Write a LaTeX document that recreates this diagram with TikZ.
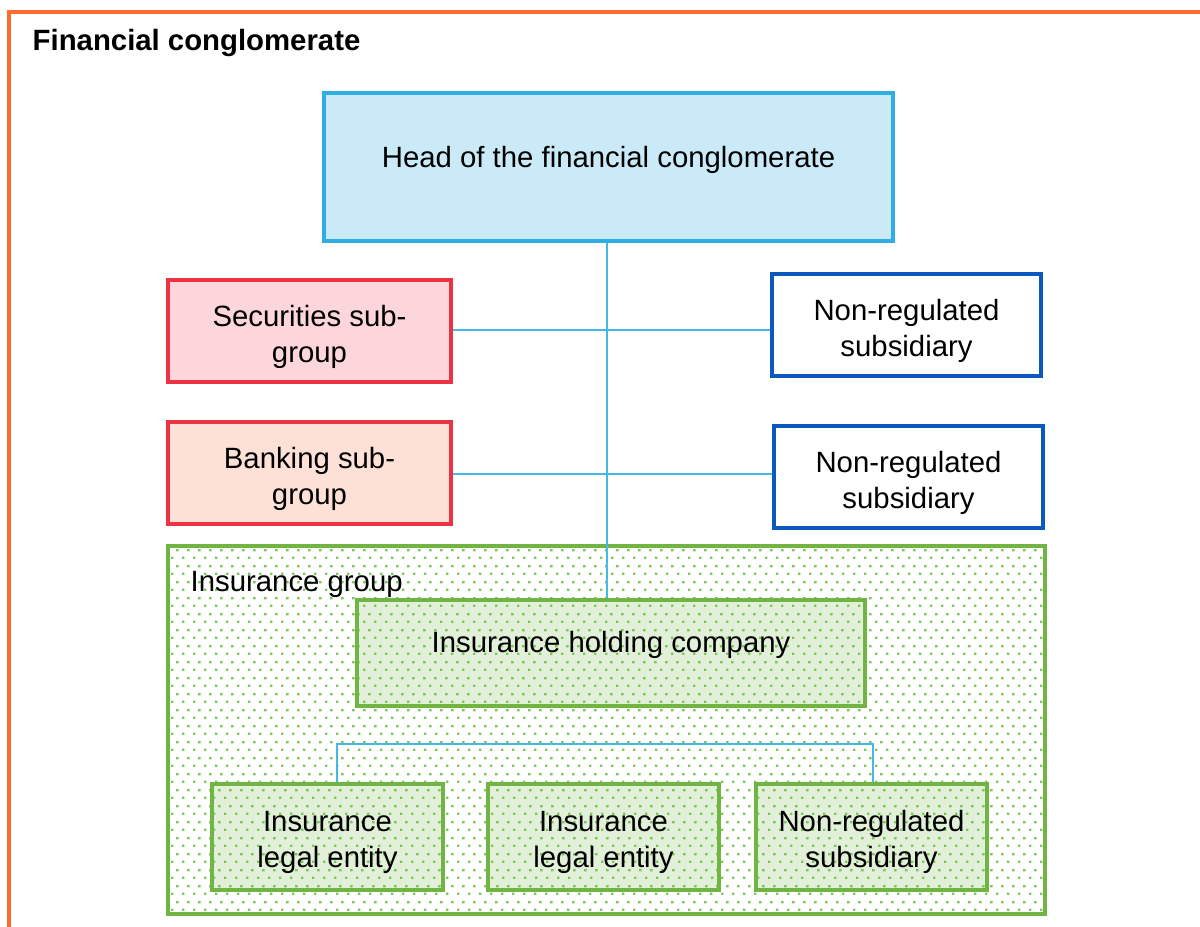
\documentclass[tikz,border=0pt]{standalone}
\usepackage{fontspec}
\setmainfont{Liberation Sans}
\usetikzlibrary{patterns.meta}
\definecolor{frameorange}{HTML}{FF6B2E}
\definecolor{headfill}{HTML}{C9EAF6}
\definecolor{headdraw}{HTML}{2FAEE4}
\definecolor{linkblue}{HTML}{45B7E8}
\definecolor{secfill}{HTML}{FDD6DB}
\definecolor{bankfill}{HTML}{FDE1D6}
\definecolor{reddraw}{HTML}{EC3343}
\definecolor{navydraw}{HTML}{0A59BE}
\definecolor{greendraw}{HTML}{70B544}
\definecolor{greenfill}{HTML}{E2EFD9}
\definecolor{dotgreen}{HTML}{7CC856}
\pgfdeclarepattern{
  name=greendots,
  type=uncolored,
  bottom left={\pgfpoint{0pt}{0pt}},
  top right={\pgfpoint{8pt}{12pt}},
  tile size={\pgfpoint{8pt}{12pt}},
  code={
    \pgfpathrectangle{\pgfpoint{0pt}{0pt}}{\pgfpoint{1.8pt}{1.8pt}}
    \pgfpathrectangle{\pgfpoint{4pt}{6pt}}{\pgfpoint{1.8pt}{1.8pt}}
    \pgfusepath{fill}
  }
}
\begin{document}
\begin{tikzpicture}[x=0.75pt,y=-0.75pt,
  every node/.style={font=\fontsize{22}{27}\selectfont, align=center},
  box/.style={rectangle, inner sep=0pt, line width=2.4pt},
  txt/.style={inner sep=0pt},
  headbox/.style={box, draw=headdraw, fill=headfill},
  redbox/.style={box, draw=reddraw},
  navybox/.style={box, draw=navydraw, fill=white},
  greenbox/.style={box, draw=greendraw, preaction={fill=greenfill}, pattern=greendots, pattern color=dotgreen},
  groupbox/.style={box, draw=greendraw, preaction={fill=white}, pattern=greendots, pattern color=dotgreen},
  link/.style={draw=linkblue, line width=1.5pt}
]
\useasboundingbox (0,0) rectangle (1200,927);
\fill[white] (0,0) rectangle (1200,927);
% outer frame
\draw[frameorange, line width=2.3pt] (9,927) -- (9,12) -- (1200,12);
\node[anchor=west, font=\fontsize{22}{27}\selectfont\bfseries] (title) at (28,43) {Financial conglomerate};

% insurance group container
\node[groupbox, minimum width=877*0.75pt, minimum height=368*0.75pt] (ig) at (606.5,730) {};
\node[anchor=west] (iglabel) at (186,584) {Insurance group};

\node[headbox, minimum width=569*0.75pt, minimum height=148*0.75pt] (head) at (608.5,167) {};
\node[txt] (headtxt) at (608.5,160) {Head of the financial conglomerate};

\node[redbox, fill=secfill, minimum width=283*0.75pt, minimum height=102*0.75pt] (sec) at (309.5,331) {};
\node[txt] (sectxt) at (309.5,337) {Securities sub-\\group};
\node[redbox, fill=bankfill, minimum width=283*0.75pt, minimum height=102*0.75pt] (bank) at (309.5,473) {};
\node[txt] (banktxt) at (309.5,479) {Banking sub-\\group};
\node[navybox, minimum width=269*0.75pt, minimum height=102*0.75pt] (nr1) at (906.5,325) {};
\node[txt] (nr1txt) at (906.5,331) {Non-regulated\\subsidiary};
\node[navybox, minimum width=269*0.75pt, minimum height=102*0.75pt] (nr2) at (908.5,477) {};
\node[txt] (nr2txt) at (908.5,483) {Non-regulated\\subsidiary};

\node[greenbox, minimum width=508*0.75pt, minimum height=106*0.75pt] (hold) at (611,653) {};
\node[txt] (holdtxt) at (611,645) {Insurance holding company};

\node[greenbox, minimum width=231*0.75pt, minimum height=106*0.75pt] (le1) at (327.5,837) {};
\node[txt] (le1txt) at (327.5,842) {Insurance\\legal entity};
\node[greenbox, minimum width=231*0.75pt, minimum height=106*0.75pt] (le2) at (603.5,837) {};
\node[txt] (le2txt) at (603.5,842) {Insurance\\legal entity};
\node[greenbox, minimum width=231*0.75pt, minimum height=106*0.75pt] (nr3) at (871.5,837) {};
\node[txt] (nr3txt) at (871.5,842) {Non-regulated\\subsidiary};

% connectors
\coordinate (bar) at (0,744);
\draw[link] ([xshift=-1pt]head.south) -- ([xshift=-1pt]head.south |- hold.north);
\draw[link] (sec.east |- 0,330) -- (nr1.west |- 0,330);
\draw[link] (bank.east |- 0,474) -- (nr2.west |- 0,474);
\draw[link] ([xshift=7pt]le1.north) -- ([xshift=7pt]le1.north |- bar) -| ([xshift=1pt]nr3.north);
\end{tikzpicture}
\end{document}
